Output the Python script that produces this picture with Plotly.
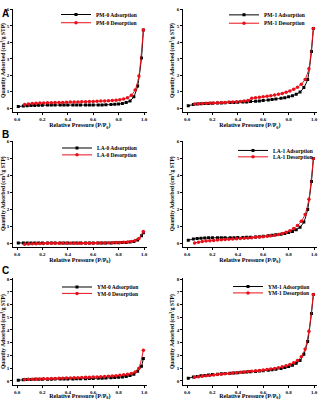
import plotly.graph_objects as go

W, H = 320, 400

# Relative pressure grids (P/P0)
P_ADS = [0.01, 0.05, 0.08, 0.11, 0.14, 0.17, 0.20, 0.24, 0.27, 0.30, 0.34, 0.37, 0.40, 0.44, 0.47, 0.50,
         0.54, 0.57, 0.60, 0.64, 0.67, 0.70, 0.74, 0.77, 0.80, 0.83, 0.86, 0.89, 0.92, 0.95, 0.98, 0.995]
P_DES = [0.995, 0.96, 0.93, 0.90, 0.87, 0.84, 0.81, 0.78, 0.75, 0.72, 0.69, 0.66, 0.63, 0.60, 0.57, 0.54,
         0.51, 0.48, 0.45, 0.42, 0.39, 0.36, 0.33, 0.30, 0.27, 0.24, 0.21, 0.18, 0.15, 0.12, 0.09, 0.06]

SAMPLES = ["PM-0", "PM-1", "LA-0", "LA-1", "YM-0", "YM-1"]
PANEL_LABELS = ["A", "B", "C"]

PM0_ADS = [0.10, 0.13, 0.15, 0.16, 0.17, 0.18, 0.18, 0.19, 0.19, 0.19, 0.19, 0.19, 0.19, 0.19, 0.19, 0.19,
           0.19, 0.19, 0.19, 0.20, 0.20, 0.21, 0.22, 0.24, 0.26, 0.29, 0.34, 0.44, 0.70, 1.35, 3.05, 4.75]
PM0_DES = [4.75, 1.95, 1.10, 0.78, 0.63, 0.56, 0.52, 0.49, 0.47, 0.45, 0.44, 0.43, 0.42, 0.41, 0.40, 0.39,
           0.39, 0.38, 0.37, 0.37, 0.36, 0.35, 0.35, 0.34, 0.33, 0.33, 0.32, 0.31, 0.30, 0.29, 0.26, 0.22]

PM1_ADS = [0.15, 0.22, 0.25, 0.27, 0.28, 0.29, 0.30, 0.31, 0.32, 0.33, 0.34, 0.35, 0.36, 0.37, 0.38, 0.40,
           0.42, 0.44, 0.47, 0.50, 0.53, 0.56, 0.60, 0.64, 0.69, 0.76, 0.85, 0.98, 1.25, 1.75, 3.45, 4.85]
PM1_DES = [4.85, 2.40, 1.75, 1.45, 1.28, 1.15, 1.05, 0.97, 0.90, 0.85, 0.80, 0.76, 0.72, 0.69, 0.66, 0.63,
           0.60, 0.46, 0.43, 0.41, 0.39, 0.38, 0.37, 0.35, 0.34, 0.33, 0.32, 0.31, 0.30, 0.28, 0.27, 0.25]

LA0_ADS = [0.02, 0.02, 0.02, 0.02, 0.02, 0.02, 0.02, 0.02, 0.02, 0.02, 0.02, 0.02, 0.02, 0.02, 0.02, 0.02,
           0.02, 0.02, 0.02, 0.02, 0.02, 0.02, 0.02, 0.03, 0.03, 0.04, 0.05, 0.07, 0.11, 0.20, 0.45, 0.62]
LA0_DES = [0.70, 0.28, 0.16, 0.11, 0.08, 0.06, 0.05, 0.04, 0.03, 0.03, 0.02, 0.02, 0.02, 0.01, 0.01, 0.01,
           0.01, 0.01, 0.01, 0.00, 0.00, 0.00, 0.00, 0.00, 0.00, 0.00, -0.01, -0.01, -0.02, -0.03, -0.04, -0.05]

LA1_ADS = [0.18, 0.25, 0.28, 0.30, 0.31, 0.32, 0.32, 0.33, 0.33, 0.33, 0.33, 0.33, 0.34, 0.34, 0.35, 0.36,
           0.37, 0.39, 0.41, 0.44, 0.47, 0.50, 0.54, 0.58, 0.63, 0.70, 0.80, 0.95, 1.25, 2.00, 3.65, 5.00]
LA1_DES = [5.00, 2.60, 1.70, 1.30, 1.05, 0.87, 0.74, 0.65, 0.58, 0.52, 0.48, 0.44, 0.41, 0.39, 0.37, 0.35,
           0.33, 0.31, 0.30, 0.28, 0.27, 0.25, 0.24, 0.22, 0.21, 0.19, 0.17, 0.15, 0.13, 0.10, 0.06, 0.02]

YM0_ADS = [0.05, 0.08, 0.10, 0.11, 0.12, 0.12, 0.13, 0.13, 0.13, 0.14, 0.14, 0.14, 0.15, 0.15, 0.16, 0.16,
           0.17, 0.18, 0.19, 0.20, 0.21, 0.22, 0.24, 0.26, 0.28, 0.31, 0.35, 0.42, 0.52, 0.75, 1.15, 1.75]
YM0_DES = [2.40, 1.00, 0.70, 0.58, 0.52, 0.47, 0.44, 0.41, 0.39, 0.37, 0.35, 0.33, 0.31, 0.30, 0.29, 0.28,
           0.27, 0.25, 0.24, 0.23, 0.22, 0.21, 0.20, 0.19, 0.18, 0.17, 0.16, 0.15, 0.14, 0.13, 0.12, 0.10]

YM1_ADS = [0.20, 0.30, 0.35, 0.40, 0.43, 0.46, 0.49, 0.52, 0.55, 0.57, 0.60, 0.62, 0.64, 0.67, 0.69, 0.71,
           0.74, 0.77, 0.80, 0.84, 0.88, 0.92, 0.98, 1.04, 1.12, 1.22, 1.38, 1.60, 2.10, 3.10, 5.30, 6.80]
YM1_DES = [6.80, 3.90, 2.50, 1.90, 1.60, 1.42, 1.28, 1.18, 1.10, 1.03, 0.98, 0.93, 0.89, 0.85, 0.82, 0.79,
           0.76, 0.73, 0.70, 0.67, 0.64, 0.61, 0.58, 0.55, 0.52, 0.49, 0.46, 0.43, 0.40, 0.36, 0.32, 0.28]

ADS = [PM0_ADS, PM1_ADS, LA0_ADS, LA1_ADS, YM0_ADS, YM1_ADS]
DES = [PM0_DES, PM1_DES, LA0_DES, LA1_DES, YM0_DES, YM1_DES]
Y_MAX = [6, 6, 6, 6, 8, 8]

# ---- layout geometry (pixels) ----
COLS = [(17.0, 127.0), (187.0, 127.0)]
X_RANGE = [-0.03, 1.02]
ROWS = [(103.0, 16.75, [-0.25, 6.05]),
        (240.5, 17.25, [-0.2, 6.05]),
        (380.5, 12.94, [-0.3, 8.05])]
LEG_POS = [(142, 7.5, 16.0), (310, 8.0, 16.5),
           (142, 143.5, 150.5), (318, 146.0, 152.5),
           (144, 285.0, 291.5), (315, 284.5, 291.0)]
LABEL_Y = [7, 130, 268]

SERIF = "Liberation Serif"
RED = "#e8101a"

fig = go.Figure()
layout = dict(width=W, height=H, margin=dict(l=0, r=0, t=0, b=0),
              paper_bgcolor="white", plot_bgcolor="white", showlegend=True)

for i, name in enumerate(SAMPLES):
    r, c = divmod(i, 2)
    x0, xs = COLS[c]
    y0, ys, yr = ROWS[r]
    xd = [(x0 + X_RANGE[0] * xs) / W, (x0 + X_RANGE[1] * xs) / W]
    yd = [1 - (y0 - yr[0] * ys) / H, 1 - (y0 - yr[1] * ys) / H]
    k = "" if i == 0 else str(i + 1)
    leg1 = "legend" if i == 0 else f"legend{2 * i + 1}"
    leg2 = f"legend{2 * i + 2}"
    fig.add_trace(go.Scatter(x=P_ADS, y=ADS[i], mode="lines+markers", name=f"{name} Adsorption",
                             line=dict(color="black", width=1, shape="spline", smoothing=0.6),
                             marker=dict(symbol="square", size=3, color="black"),
                             xaxis="x" + k, yaxis="y" + k, legend=leg1))
    fig.add_trace(go.Scatter(x=P_DES, y=DES[i], mode="lines+markers", name=f"{name} Desorption",
                             line=dict(color=RED, width=1, shape="spline", smoothing=0.6),
                             marker=dict(symbol="circle", size=3.5, color=RED),
                             xaxis="x" + k, yaxis="y" + k, legend=leg2))
    ax_common = dict(showline=True, linecolor="black", linewidth=1, showgrid=False, zeroline=False,
                     ticks="outside", ticklen=2, tickwidth=0.8, tickcolor="black",
                     tickfont=dict(family=SERIF, size=5, color="black", weight="bold"))
    layout["xaxis" + k] = dict(ax_common, domain=xd, range=X_RANGE, anchor="y" + k,
                               tickvals=[0, 0.2, 0.4, 0.6, 0.8, 1.0], ticktext=["0.0", "0.2", "0.4", "0.6", "0.8", "1.0"],
                               title=dict(text="Relative Pressure (P/P<sub>0</sub>)", standoff=1,
                                          font=dict(family=SERIF, size=6, color="black", weight="bold")))
    layout["yaxis" + k] = dict(ax_common, domain=yd, range=yr, anchor="x" + k,
                               tickvals=list(range(0, Y_MAX[i] + 1)),
                               title=dict(text="Quantity Adsorbed (cm<sup>3</sup>/g STP)", standoff=1,
                                          font=dict(family=SERIF, size=5.5, color="black", weight="bold")))
    lx, ly1, ly2 = LEG_POS[i]
    for leg, ly in ((leg1, ly1), (leg2, ly2)):
        layout[leg] = dict(x=lx / W, y=1 - ly / H, xanchor="right", yanchor="middle",
                           bgcolor="rgba(0,0,0,0)", borderwidth=0,
                           font=dict(family=SERIF, size=5.5, color="black", weight="bold"),
                           itemwidth=30)

annotations = []
for j, lab in enumerate(PANEL_LABELS):
    annotations.append(dict(text=lab, x=0.0, y=1 - LABEL_Y[j] / H, xref="paper", yref="paper",
                            xanchor="left", yanchor="middle", showarrow=False,
                            font=dict(family="Liberation Sans", size=10, color="black", weight="bold")))
layout["annotations"] = annotations

fig.update_layout(**layout)
fig.write_html("out.html", config={"displayModeBar": False},
               post_script="document.body.style.margin='0px';")
